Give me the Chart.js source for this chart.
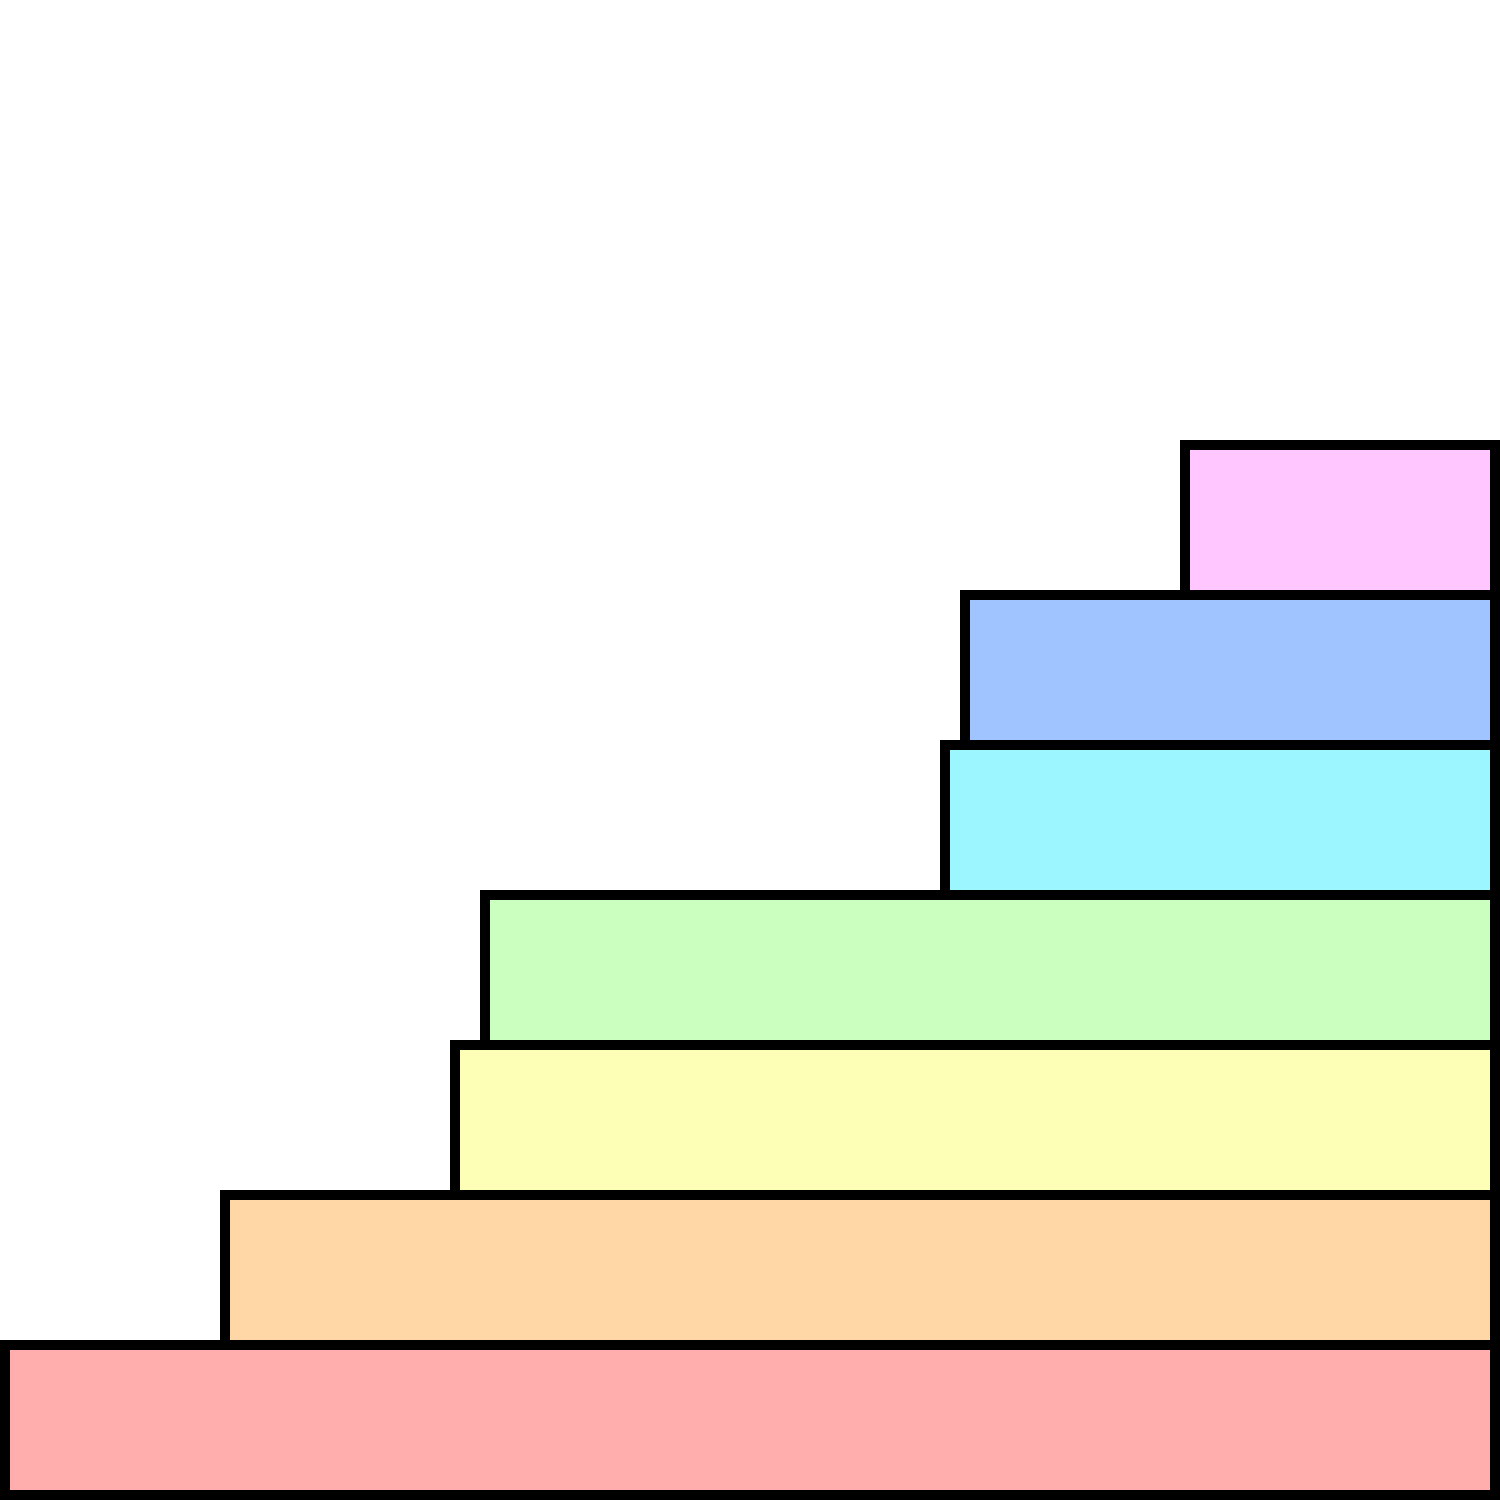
<!DOCTYPE html>
<html>
<head>
<meta charset="utf-8">
<script src="https://cdn.jsdelivr.net/npm/chart.js@4/dist/chart.umd.min.js"></script>
<style>
  html, body { margin: 0; padding: 0; background: #ffffff; }
  #wrap { width: 1500px; height: 1500px; position: relative; }
</style>
</head>
<body>
<div id="wrap"><canvas id="c"></canvas></div>
<script>
// Data
const categories = [0, 1, 2, 3, 4, 5, 6];
const barStarts = [0, 220, 450, 480, 940, 960, 1180];
const barEnds = [1500, 1500, 1500, 1500, 1500, 1500, 1500];
const barColors = ['#ffadad', '#ffd6a5', '#fdffb6', '#caffbf', '#9bf6ff', '#a0c4ff', '#ffc6ff'];

const points = categories.map((c, i) => ({ y: c, x: [barStarts[i], barEnds[i]] }));

new Chart(document.getElementById('c'), {
  type: 'bar',
  data: {
    datasets: [{
      data: points,
      backgroundColor: barColors,
      borderColor: '#000000',
      borderWidth: 10,
      borderSkipped: false,
      barThickness: 160,
      inflateAmount: 0,
      clip: false
    }]
  },
  options: {
    indexAxis: 'y',
    responsive: true,
    maintainAspectRatio: false,
    animation: false,
    layout: { padding: 0 },
    plugins: { legend: { display: false }, tooltip: { enabled: false } },
    scales: {
      x: { type: 'linear', min: 0, max: 1500, display: false, offset: false },
      y: { type: 'linear', min: -8 / 15, max: 142 / 15, display: false, offset: false }
    }
  }
});
</script>
</body>
</html>
